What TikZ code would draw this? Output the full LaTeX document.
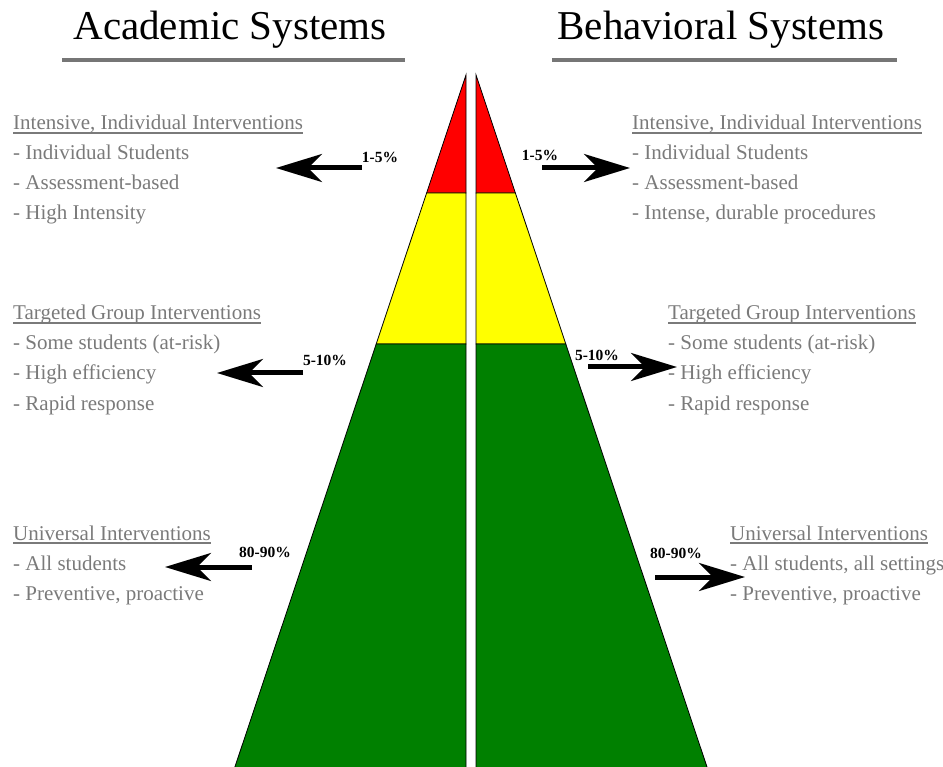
\documentclass[tikz,border=0pt]{standalone}
\usepackage{fontspec}
\setmainfont{Liberation Serif}
\usetikzlibrary{arrows.meta}
\definecolor{tierred}{RGB}{255,0,0}
\definecolor{tieryellow}{RGB}{255,255,0}
\definecolor{tiergreen}{RGB}{0,128,0}
\definecolor{textgray}{RGB}{122,122,122}
\definecolor{rulegray}{RGB}{118,118,118}

\begin{document}
\begin{tikzpicture}[x=1pt,y=-1pt,
  tier/.style={draw=black,line width=0.8pt},
  title/.style={anchor=base,inner sep=0pt,font=\fontsize{41}{41}\selectfont},
  head/.style={anchor=base west,inner sep=0pt,text=textgray,font=\fontsize{21}{21}\selectfont},
  pct/.style={inner sep=0pt,font=\fontsize{15.5}{15.5}\selectfont\bfseries},
  bigarrow/.style={line width=5pt,-{Stealth[length=46pt,width=28pt,inset=14pt]}},
  hrule/.style={draw=textgray,line width=1.5pt},
  trule/.style={draw=rulegray,line width=4pt}]
\useasboundingbox (0,0) rectangle (943,767);

\node[title] (acad) at (230,40) {Academic Systems};
\node[title] (behav) at (721,40) {Behavioral Systems};
\draw[trule] (62,60) -- (405,60);
\draw[trule] (552,60) -- (897,60);

\filldraw[tier,fill=tierred] (466,75) -- (426.6,193) -- (466,193) -- cycle;
\filldraw[tier,fill=tieryellow] (426.6,193) -- (376.2,344) -- (466,344) -- (466,193) -- cycle;
\filldraw[tier,fill=tiergreen] (376.2,344) -- (233.9,770) -- (466,770) -- (466,344) -- cycle;
\filldraw[tier,fill=tierred] (476,75) -- (515.4,193) -- (476,193) -- cycle;
\filldraw[tier,fill=tieryellow] (515.4,193) -- (565.8,344) -- (476,344) -- (476,193) -- cycle;
\filldraw[tier,fill=tiergreen] (565.8,344) -- (708,770) -- (476,770) -- (476,344) -- cycle;

\node[head] (lh1) at (13,130) {Intensive, Individual Interventions};
\node[head] (lh2) at (13,320) {Targeted Group Interventions};
\node[head] (lh3) at (13,540) {Universal Interventions};
\node[head] (rh1) at (632,130) {Intensive, Individual Interventions};
\node[head] (rh2) at (668,320) {Targeted Group Interventions};
\node[head] (rh3) at (730,540) {Universal Interventions};
\foreach \h in {lh1,lh2,lh3,rh1,rh2,rh3}
  \draw[hrule] ([yshift=-3pt]\h.base west) -- ([yshift=-3pt]\h.base east);

\foreach \t [count=\i] in {Individual Students,Assessment-based,High Intensity}
  \node[head] (li1-\i) at (13,130+30*\i) {- \t};
\foreach \t [count=\i] in {Some students (at-risk),High efficiency,Rapid response}
  \node[head] (li2-\i) at (13,320+30*\i) {- \t};
\foreach \t [count=\i] in {All students,{Preventive, proactive}}
  \node[head] (li3-\i) at (13,540+30*\i) {- \t};
\foreach \t [count=\i] in {Individual Students,Assessment-based,{Intense, durable procedures}}
  \node[head] (ri1-\i) at (632,130+30*\i) {- \t};
\foreach \t [count=\i] in {Some students (at-risk),High efficiency,Rapid response}
  \node[head] (ri2-\i) at (668,320+30*\i) {- \t};
\foreach \t [count=\i] in {{All students, all settings},{Preventive, proactive}}
  \node[head] (ri3-\i) at (730,540+30*\i) {- \t};

\node[pct] (lp1) at (380,157) {1-5\%};
\node[pct] (lp2) at (325,360) {5-10\%};
\node[pct] (lp3) at (265,552) {80-90\%};
\node[pct] (rp1) at (540,155) {1-5\%};
\node[pct] (rp2) at (597,355) {5-10\%};
\node[pct] (rp3) at (676,553) {80-90\%};

\coordinate (la1) at (362,168);
\coordinate (lb1) at (276,168);
\coordinate (la2) at (303,373);
\coordinate (lb2) at (217,373);
\coordinate (la3) at (252,567);
\coordinate (lb3) at (165,567);
\coordinate (ra1) at (542,168);
\coordinate (rb1) at (630,168);
\coordinate (ra2) at (588,367);
\coordinate (rb2) at (677,367);
\coordinate (ra3) at (655,577);
\coordinate (rb3) at (745,577);
\foreach \s in {l,r}
  \foreach \k in {1,2,3}
    \draw[bigarrow] (\s a\k) -- (\s b\k);
\end{tikzpicture}
\end{document}
